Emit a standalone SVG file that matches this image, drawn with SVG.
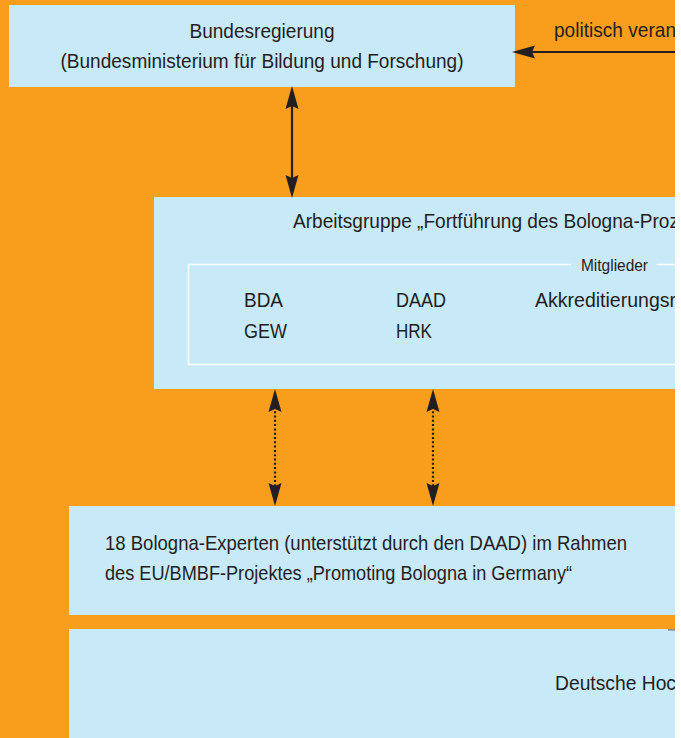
<svg xmlns="http://www.w3.org/2000/svg" width="681" height="738" viewBox="0 0 681 738">
  <style>
    .box { fill: #C7E9F8; }
    .t { font-family: "Liberation Sans", Arial, sans-serif; font-size: 21px; fill: #231F20; }
    .small { font-size: 16px; }
    .solid { stroke: #231F20; stroke-width: 2.2; fill: none; }
    .dotted { stroke: #231F20; stroke-width: 2.2; fill: none; stroke-dasharray: 2 2.3; }
  </style>
  <defs>
    <clipPath id="page"><rect x="0" y="0" width="675" height="738"/></clipPath>
    <marker id="head" viewBox="0 -7 23 14" refX="18" refY="0" markerWidth="23" markerHeight="14" markerUnits="userSpaceOnUse" orient="auto-start-reverse">
      <path d="M23,0 L0,-6.5 L3,0 L0,6.5 Z" fill="#231F20"/>
    </marker>
  </defs>
  <rect x="0" y="0" width="681" height="738" fill="#FFFFFF"/>
  <g clip-path="url(#page)">
    <rect x="0" y="0" width="675" height="738" fill="#F99D1C"/>

    <g id="bundesregierung">
      <rect class="box" x="9" y="5" width="506" height="82"/>
      <text class="t" x="262" y="38" text-anchor="middle" textLength="145" lengthAdjust="spacingAndGlyphs">Bundesregierung</text>
      <text class="t" x="262" y="68" text-anchor="middle" textLength="403" lengthAdjust="spacingAndGlyphs">(Bundesministerium für Bildung und Forschung)</text>
    </g>

    <g id="politisch">
      <text class="t" x="554" y="37" textLength="122" lengthAdjust="spacingAndGlyphs">politisch veran</text>
    </g>

    <g id="arbeitsgruppe">
      <rect class="box" x="154" y="197" width="530" height="192"/>
      <text class="t" x="293" y="228" textLength="386" lengthAdjust="spacingAndGlyphs">Arbeitsgruppe „Fortführung des Bologna-Proz</text>
      <path d="M571,264.5 H188.5 V364.5 H690 M657,264.5 H690" stroke="#FFFFFF" stroke-width="1.5" fill="none"/>
      <text class="t small" x="581" y="271" textLength="67" lengthAdjust="spacingAndGlyphs">Mitglieder</text>
      <text class="t" x="244" y="307" textLength="39" lengthAdjust="spacingAndGlyphs">BDA</text>
      <text class="t" x="396" y="307" textLength="50" lengthAdjust="spacingAndGlyphs">DAAD</text>
      <text class="t" x="535" y="307" textLength="141" lengthAdjust="spacingAndGlyphs">Akkreditierungsr</text>
      <text class="t" x="244" y="338" textLength="43" lengthAdjust="spacingAndGlyphs">GEW</text>
      <text class="t" x="396" y="338" textLength="36" lengthAdjust="spacingAndGlyphs">HRK</text>
    </g>

    <g id="experten">
      <rect class="box" x="69" y="506" width="615" height="109"/>
      <text class="t" x="105" y="550" textLength="522" lengthAdjust="spacingAndGlyphs">18 Bologna-Experten (unterstützt durch den DAAD) im Rahmen</text>
      <text class="t" x="105" y="580" textLength="467" lengthAdjust="spacingAndGlyphs">des EU/BMBF-Projektes „Promoting Bologna in Germany“</text>
    </g>

    <g id="hochschulen">
      <rect class="box" x="69" y="629" width="615" height="120"/>
      <line x1="668" y1="629.8" x2="680" y2="629.8" stroke="#8A8A8A" stroke-width="1.6"/>
      <text class="t" x="555" y="690" textLength="121" lengthAdjust="spacingAndGlyphs">Deutsche Hoc</text>
    </g>

    <g id="connectors">
      <line class="solid" x1="680" y1="52" x2="517" y2="52" stroke-width="2.6" marker-end="url(#head)"/>
      <line class="solid" x1="292" y1="91" x2="292" y2="193" marker-start="url(#head)" marker-end="url(#head)"/>
      <line class="dotted" x1="275" y1="394" x2="275" y2="501" marker-start="url(#head)" marker-end="url(#head)"/>
      <line class="dotted" x1="433" y1="394" x2="433" y2="501" marker-start="url(#head)" marker-end="url(#head)"/>
    </g>
  </g>
</svg>
